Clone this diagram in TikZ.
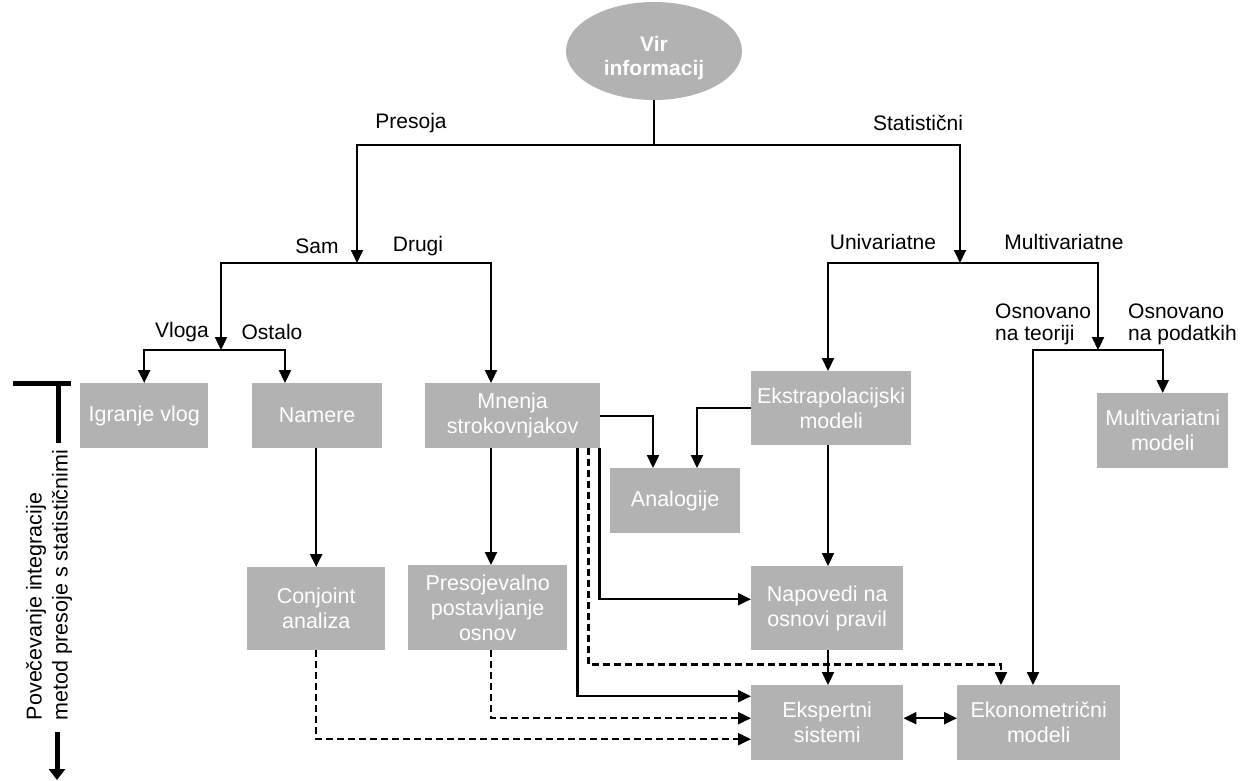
\documentclass[tikz,border=0pt]{standalone}
\usepackage{fontspec}
\setmainfont{Liberation Sans}
\usetikzlibrary{arrows.meta,shapes.geometric,calc}
\definecolor{boxgray}{RGB}{178,178,178}
\begin{document}
\begin{tikzpicture}[x=1pt,y=-1pt,
  box/.style={fill=boxgray,text=white,align=center,inner sep=0pt,anchor=north west,font=\fontsize{21.5}{25}\selectfont},
  lbl/.style={font=\fontsize{21}{22}\selectfont,inner sep=0pt,align=left},
  arr/.style={line width=2.2pt,-{Triangle[length=13pt,width=12pt]}},
  darr/.style={arr,dash pattern=on 7pt off 4pt},
  biarr/.style={line width=2.2pt,{Triangle[length=13pt,width=12pt]}-{Triangle[length=13pt,width=12pt]}},
  axln/.style={line width=5pt},
]
\useasboundingbox (0,0) rectangle (1240,780);

% root
\node[ellipse,fill=boxgray,minimum width=176pt,minimum height=98pt,inner sep=0pt] (vir) at (654,51) {};
\node[text=white,align=center,inner sep=0pt,font=\bfseries\fontsize{21}{24}\selectfont] (virt) at (654,58) {Vir\\informacij};

% boxes
\node[box,minimum width=128pt,minimum height=65pt] (igr) at (80,383) {Igranje vlog};
\node[box,minimum width=130pt,minimum height=65pt] (nam) at (252,383) {Namere};
\node[box,minimum width=175pt,minimum height=65pt] (mne) at (425,383) {Mnenja\\strokovnjakov};
\node[box,minimum width=160pt,minimum height=74pt] (ekt) at (751,371) {Ekstrapolacijski\\modeli};
\node[box,minimum width=131pt,minimum height=75pt] (mul) at (1097,393) {Multivariatni\\modeli};
\node[box,minimum width=130pt,minimum height=65pt] (ana) at (610,468) {Analogije};
\node[box,minimum width=138pt,minimum height=83pt] (con) at (247,567) {Conjoint\\analiza};
\node[box,minimum width=159pt,minimum height=85pt] (pre) at (408,565) {Presojevalno\\postavljanje\\osnov};
\node[box,minimum width=152pt,minimum height=84pt] (nap) at (751,566) {Napovedi na\\osnovi pravil};
\node[box,minimum width=152pt,minimum height=75pt] (eks) at (751,685) {Ekspertni\\sistemi};
\node[box,minimum width=163pt,minimum height=75pt] (eko) at (957,685) {Ekonometrični\\modeli};

% labels
\node[lbl] (lpres) at (411,123) {Presoja};
\node[lbl] (lstat) at (918,123) {Statistični};
\node[lbl] (lsam) at (317,246) {Sam};
\node[lbl] (ldru) at (418,246) {Drugi};
\node[lbl] (lvlo) at (182,332) {Vloga};
\node[lbl] (lost) at (272,332) {Ostalo};
\node[lbl] (luni) at (883,242) {Univariatne};
\node[lbl] (lmul) at (1064,242) {Multivariatne};
\node[lbl,anchor=west] (lteo) at (995,324) {Osnovano\\na teoriji};
\node[lbl,anchor=west] (lpod) at (1128,324) {Osnovano\\na podatkih};

% junctions
\coordinate (j0) at (654,145);
\coordinate (bP) at (357,263);
\coordinate (bS) at (960,263);
\coordinate (bV) at (221,350);
\coordinate (bM) at (1098,350);
\coordinate (mD) at ($(mne.north west)+(66,0)$);
\coordinate (mP) at ($(mne.south west)+(66,0)$);
\coordinate (mS1) at ($(mne.south east)+(-1,0)$);
\coordinate (mS2) at ($(mne.south east)+(-12,0)$);
\coordinate (mS3) at ($(mne.south east)+(-23,0)$);
\coordinate (aL) at ($(ana.north west)+(43,0)$);
\coordinate (aR) at ($(ana.north west)+(87,0)$);
\coordinate (eD) at ($(eko.north west)+(44,0)$);
\coordinate (eS) at ($(eko.north west)+(76,0)$);
\coordinate (eN) at ($(ekt.north west)+(77,0)$);
\coordinate (nO) at ($(nam.north west)+(33,0)$);

% tree connectors
\draw[line width=1.3pt] (vir.south) -- (j0);
\draw[arr,line width=1.8pt] (j0) -| (bP);
\draw[arr,line width=1.8pt] (j0) -| (bS);
\draw[arr] (bP) -| (bV);
\draw[arr] (bP) -| (mD);
\draw[arr] (bV) -| (igr.north);
\draw[arr] (bV) -| (nO);
\draw[arr] (bS) -| (eN);
\draw[arr] (bS) -| (bM);
\draw[arr] (bM) -| (eS);
\draw[arr] (bM) -| (mul.north);

% lower connectors
\draw[arr] (mne.east) -| (aL);
\draw[arr] (ekt.west) -| (aR);
\draw[arr] (eN |- ekt.south) -- (eN |- nap.north);
\draw[arr] (eN |- nap.south) -- (eN |- eks.north);
\draw[arr] (con.north |- nam.south) -- (con.north);
\draw[arr] (mP) -- (mP |- pre.north);
\draw[arr] (mS1) |- ($(nap.west)+(0,-9)$);
\draw[arr] (mS3) |- ($(eks.west)+(0,-26.5)$);
\draw[darr] (mS2) -- ++(0,216) -| (eD);
\draw[darr] (mP |- pre.south) |- ($(eks.west)+(0,-4.5)$);
\draw[darr] (con.south) |- ($(eks.west)+(0,16.5)$);
\draw[biarr] ($(eks.east)+(0,-4.5)$) -- ($(eko.west)+(0,-4.5)$);

% left axis
\coordinate (tL) at (13,383);
\coordinate (tR) at (71,383);
\coordinate (tM) at (58,383);
\coordinate (tB) at (58,443);
\coordinate (aT) at (57,732);
\coordinate (aB) at (57,780);
\draw[axln] (tL) -- (tR);
\draw[axln] (tM) -- (tB);
\node[rotate=90,align=left,inner sep=0pt,font=\fontsize{21.5}{26}\selectfont] (axis) at (49,585) {Povečevanje integracije\\metod presoje s statističnimi};
\draw[axln,-{Triangle[length=11pt,width=16pt]}] (aT) -- (aB);
\end{tikzpicture}
\end{document}
